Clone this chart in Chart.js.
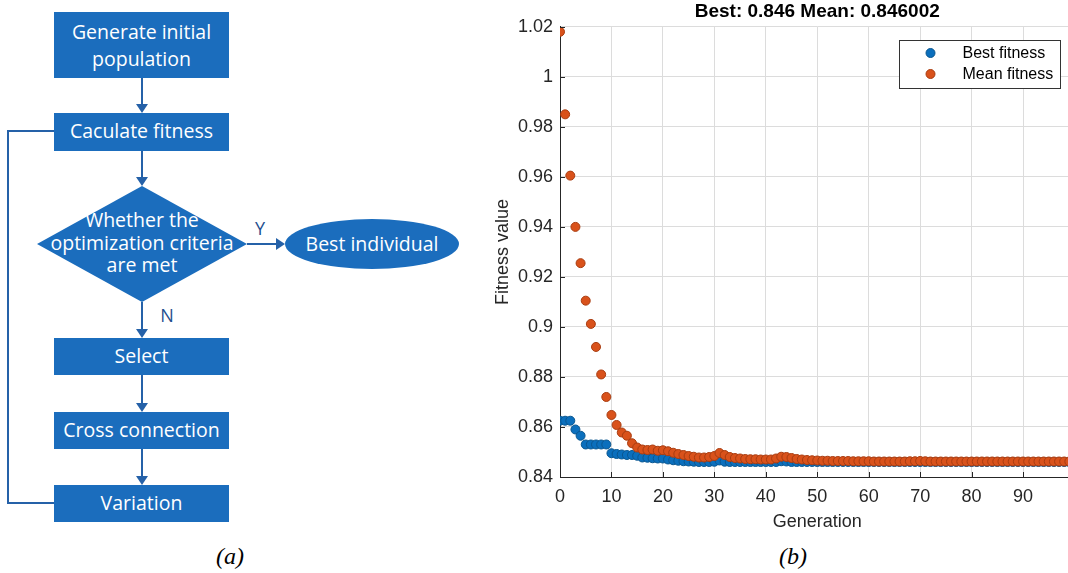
<!DOCTYPE html>
<html>
<head>
<meta charset="utf-8">
<script src="https://cdn.jsdelivr.net/npm/chart.js@4.4.1/dist/chart.umd.min.js"></script>
<style>
  html, body { margin: 0; padding: 0; background: #fff; }
  body { width: 1068px; height: 573px; position: relative; overflow: hidden; }
  #flow { position: absolute; left: 0; top: 0; }
  #plotBox { position: absolute; left: 480px; top: 0; width: 600px; height: 539px; }
  .cap { position: absolute; top: 543px; font: italic 24px "Liberation Serif", serif; color: #000; transform: translateX(-50%); }
</style>
</head>
<body>
<svg id="flow" width="480" height="573" xmlns="http://www.w3.org/2000/svg">
  <g fill="#1b6dbd">
    <rect x="54" y="12" width="175" height="66"/>
    <rect x="54" y="113" width="175" height="38"/>
    <polygon points="142,186 247,244 142,302 37,244"/>
    <ellipse cx="372" cy="244" rx="87" ry="25"/>
    <rect x="54" y="338" width="175" height="37"/>
    <rect x="54" y="412" width="175" height="37"/>
    <rect x="54" y="485" width="175" height="37"/>
  </g>
  <g stroke="#2561a8" stroke-width="2" fill="none">
    <line x1="142" y1="78" x2="142" y2="106"/>
    <line x1="142" y1="151" x2="142" y2="179"/>
    <line x1="247" y1="244" x2="278" y2="244"/>
    <line x1="142" y1="302" x2="142" y2="331"/>
    <line x1="142" y1="375" x2="142" y2="405"/>
    <line x1="142" y1="449" x2="142" y2="478"/>
    <polyline points="54,503 8,503 8,131 54,131"/>
  </g>
  <g fill="#2561a8">
    <polygon points="136,104 148,104 142,113"/>
    <polygon points="136,177 148,177 142,186"/>
    <polygon points="276,238 276,250 285,244"/>
    <polygon points="136,329 148,329 142,338"/>
    <polygon points="136,403 148,403 142,412"/>
    <polygon points="136,476 148,476 142,485"/>
  </g>
  <g fill="#fff" font-family="Open Sans, Noto Sans, sans-serif" font-size="19.5" text-anchor="middle">
    <text x="141.5" y="39">Generate initial</text>
    <text x="141.5" y="66">population</text>
    <text x="141.5" y="138">Caculate fitness</text>
    <text x="142" y="227">Whether the</text>
    <text x="142" y="250">optimization criteria</text>
    <text x="142" y="272">are met</text>
    <text x="372" y="251">Best individual</text>
    <text x="141.5" y="363">Select</text>
    <text x="141.5" y="437">Cross connection</text>
    <text x="141.5" y="510">Variation</text>
  </g>
  <g fill="#1f4f8f" font-family="Open Sans, Noto Sans, sans-serif" font-size="18" text-anchor="middle">
    <text x="260" y="235">Y</text>
    <text x="167" y="322">N</text>
  </g>
</svg>
<div class="cap" style="left:230px">(a)</div>
<div class="cap" style="left:793px">(b)</div>
<div id="plotBox"><canvas id="myChart"></canvas></div>

<script>
// generations and fitness values
var generations = [0,1,2,3,4,5,6,7,8,9,10,11,12,13,14,15,16,17,18,19,20,
    21,22,23,24,25,26,27,28,29,30,31,32,33,34,35,36,37,38,39,40,
    41,42,43,44,45,46,47,48,49,50,51,52,53,54,55,56,57,58,59,60,
    61,62,63,64,65,66,67,68,69,70,71,72,73,74,75,76,77,78,79,80,
    81,82,83,84,85,86,87,88,89,90,91,92,93,94,95,96,97,98,99,100];

var bestFitness = [0.8625,0.8625,0.8625,0.8590,0.8565,0.8530,0.8530,0.8530,0.8530,0.8530,
    0.8495,0.8492,0.8490,0.8488,0.8488,0.8485,0.8478,0.8477,0.8475,0.8474,
    0.8474,0.8470,0.8467,0.8465,0.8463,0.8462,0.8461,0.8460,0.8460,0.8460,
    0.8461,0.8466,0.8461,0.8460,0.8460,0.8460,0.8460,0.8460,0.8460,0.8460,
    0.8460,0.8460,0.8460,0.8463,0.8462,0.8460,0.8460,0.8460,0.8460,0.8460,
    0.8460,0.8460,0.8460,0.8460,0.8460,0.8460,0.8460,0.8460,0.8460,0.8460,
    0.8460,0.8460,0.8460,0.8460,0.8460,0.8460,0.8460,0.8460,0.8460,0.8460,
    0.8460,0.8460,0.8460,0.8460,0.8460,0.8460,0.8460,0.8460,0.8460,0.8460,
    0.8460,0.8460,0.8460,0.8460,0.8460,0.8460,0.8460,0.8460,0.8460,0.8460,
    0.8460,0.8460,0.8460,0.8460,0.8460,0.8460,0.8460,0.8460,0.8460,0.8460,
    0.8460];

var meanFitness = [1.0180,0.9850,0.9605,0.9400,0.9255,0.9105,0.9012,0.8920,0.8810,0.8720,
    0.8648,0.8608,0.8578,0.8565,0.8535,0.8518,0.8510,0.8508,0.8510,0.8505,
    0.8507,0.8503,0.8497,0.8492,0.8488,0.8484,0.8481,0.8478,0.8478,0.8480,
    0.8484,0.8496,0.8488,0.8480,0.8476,0.8474,0.8472,0.8471,0.8471,0.8470,
    0.8470,0.8470,0.8474,0.8481,0.8480,0.8476,0.8472,0.8470,0.8468,0.8467,
    0.8466,0.8465,0.8465,0.8464,0.8464,0.8464,0.8464,0.8463,0.8463,0.8463,
    0.8463,0.8462,0.8462,0.8462,0.8462,0.8462,0.8462,0.8462,0.8463,0.8463,
    0.8464,0.8463,0.8462,0.8462,0.8462,0.8462,0.8462,0.8462,0.8462,0.8462,
    0.8462,0.8462,0.8462,0.8462,0.8462,0.8462,0.8462,0.8462,0.8462,0.8462,
    0.8462,0.8462,0.8462,0.8462,0.8462,0.8462,0.8462,0.8462,0.8462,0.8462,
    0.8462];

var xTicks = [0,10,20,30,40,50,60,70,80,90];
var yTicks = [0.84,0.86,0.88,0.9,0.92,0.94,0.96,0.98,1,1.02];

const toPoints = (ys) => generations.map((g, i) => ({x: g, y: ys[i]}));

// MATLAB-like ticks pointing into the axes
const innerTicks = {
    id: 'innerTicks',
    afterDraw(chart) {
        const ctx = chart.ctx, a = chart.chartArea;
        const sx = chart.scales.x, sy = chart.scales.y;
        ctx.save();
        ctx.strokeStyle = '#262626';
        ctx.lineWidth = 1;
        ctx.beginPath();
        xTicks.forEach(v => {
            const px = Math.round(sx.getPixelForValue(v)) + 0.5;
            ctx.moveTo(px, a.bottom); ctx.lineTo(px, a.bottom - 5);
        });
        yTicks.forEach(v => {
            const py = Math.round(sy.getPixelForValue(v)) + 0.5;
            ctx.moveTo(a.left, py); ctx.lineTo(a.left + 5, py);
        });
        ctx.stroke();
        ctx.restore();
    }
};

// legend box drawn inside the axes, top right
const boxLegend = {
    id: 'boxLegend',
    afterDraw(chart) {
        const ctx = chart.ctx;
        const x0 = 419.5, y0 = 40.5, w = 161, h = 48;
        ctx.save();
        ctx.fillStyle = '#fff';
        ctx.fillRect(x0, y0, w, h);
        ctx.strokeStyle = '#333';
        ctx.lineWidth = 1;
        ctx.strokeRect(x0, y0, w, h);
        ctx.font = '16px "Liberation Sans", Arial, sans-serif';
        ctx.textBaseline = 'middle';
        chart.data.datasets.forEach((ds, i) => {
            const cy = y0 + 12.5 + i * 21;
            ctx.beginPath();
            ctx.arc(x0 + 31, cy, 4.5, 0, Math.PI * 2);
            ctx.fillStyle = ds.backgroundColor;
            ctx.fill();
            ctx.strokeStyle = ds.borderColor;
            ctx.stroke();
            ctx.fillStyle = '#000';
            ctx.fillText(ds.label, x0 + 63, cy + 1);
        });
        ctx.restore();
    }
};

var ctx = document.getElementById('myChart').getContext('2d');
var chart = new Chart(ctx, {
    type: 'scatter',
    data: {
        datasets: [
            {
                label: 'Best fitness',
                data: toPoints(bestFitness),
                backgroundColor: '#0b6fbd',
                borderColor: '#0a568f',
                pointRadius: 4.5,
                pointBorderWidth: 1,
                order: 1
            },
            {
                label: 'Mean fitness',
                data: toPoints(meanFitness),
                backgroundColor: '#d9521b',
                borderColor: '#a83c10',
                pointRadius: 4.5,
                pointBorderWidth: 1,
                order: 0
            }
        ]
    },
    options: {
        responsive: true,
        maintainAspectRatio: false,
        animation: false,
        layout: { padding: { left: 0, right: 2, top: 0, bottom: 0 } },
        plugins: {
            legend: { display: false },
            tooltip: { enabled: false },
            title: {
                display: true,
                fullSize: false,
                text: 'Best: 0.846 Mean: 0.846002',
                color: '#000',
                font: { family: '"Liberation Sans", Arial, sans-serif', size: 19, weight: 'bold' },
                padding: { top: 0, bottom: 4 }
            }
        },
        scales: {
            x: {
                type: 'linear',
                min: 0,
                max: 100,
                afterBuildTicks: (s) => { s.ticks = xTicks.map(v => ({ value: v })); },
                afterFit: (s) => { s.height = 62; },
                grid: { color: '#dcdcdc', drawTicks: false },
                border: { color: '#262626', width: 1 },
                ticks: {
                    color: '#262626',
                    padding: 9,
                    maxRotation: 0,
                    font: { family: '"Liberation Sans", Arial, sans-serif', size: 18 }
                },
                title: {
                    display: true,
                    text: 'Generation',
                    color: '#262626',
                    font: { family: '"Liberation Sans", Arial, sans-serif', size: 18 },
                    padding: { top: 0, bottom: 6 }
                }
            },
            y: {
                type: 'linear',
                min: 0.84,
                max: 1.02,
                afterBuildTicks: (s) => { s.ticks = yTicks.map(v => ({ value: v })); },
                afterFit: (s) => { s.width = 80; },
                grid: { color: '#dcdcdc', drawTicks: false },
                border: { color: '#262626', width: 1 },
                ticks: {
                    color: '#262626',
                    padding: 7,
                    font: { family: '"Liberation Sans", Arial, sans-serif', size: 18 },
                    callback: (v) => String(+v.toFixed(2))
                },
                title: {
                    display: true,
                    text: 'Fitness value',
                    color: '#262626',
                    font: { family: '"Liberation Sans", Arial, sans-serif', size: 18 },
                    padding: { top: 12, bottom: 0 }
                }
            }
        }
    },
    plugins: [innerTicks, boxLegend]
});
</script>
</body>
</html>
